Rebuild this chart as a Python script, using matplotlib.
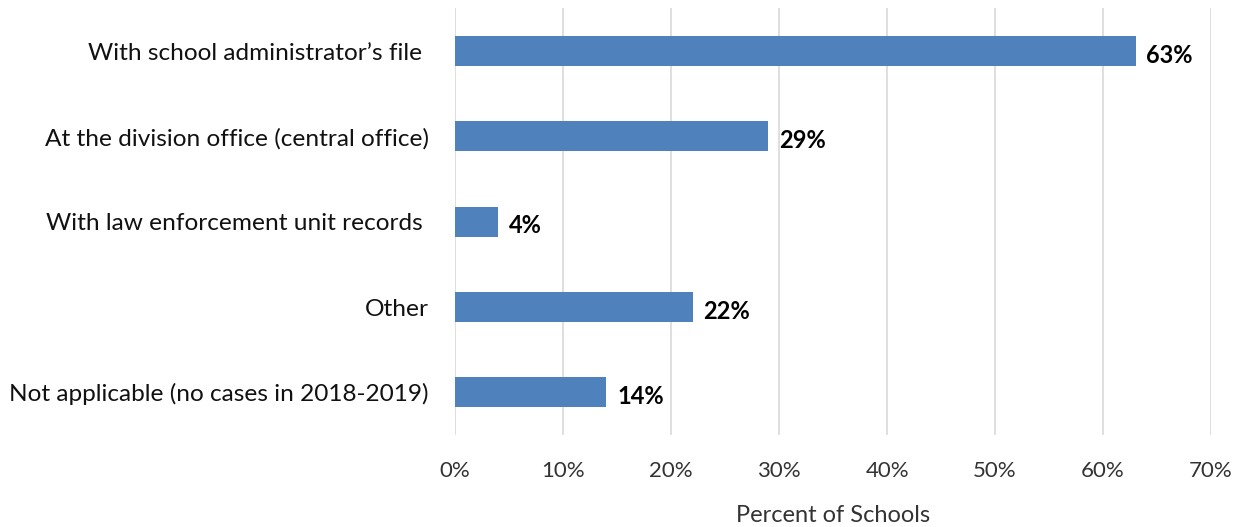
import matplotlib.pyplot as plt
from matplotlib.ticker import FuncFormatter

categories = [
    'With school administrator\u2019s file ',
    'At the division office (central office)',
    'With law enforcement unit records ',
    'Other',
    'Not applicable (no cases in 2018-2019)',
]
percents = [63, 29, 4, 22, 14]
x_ticks = [0, 10, 20, 30, 40, 50, 60, 70]

BAR_COLOR = '#4F81BD'
FONT = 'Lato'


def plot_chart():
    fig = plt.figure(figsize=(12.4, 5.27), dpi=100)
    ax = fig.add_axes([0.367, 0.1746, 0.6097, 0.8094])

    y = list(range(len(categories)))
    ax.barh(y, percents, height=0.35, color=BAR_COLOR, zorder=3)

    for yi, val in zip(y, percents):
        ax.text(val + 1.0, yi + 0.05, f'{val}%', va='center', ha='left',
                fontsize=17, fontweight='bold', fontname=FONT, color='black')

    ax.set_ylim(len(categories) - 0.5, -0.5)
    ax.set_xlim(0, 70)
    ax.set_yticks(y)
    ax.set_yticklabels(categories, fontname=FONT, fontsize=17.6, color='#111111')
    ax.set_xticks(x_ticks)
    ax.xaxis.set_major_formatter(FuncFormatter(lambda v, _: f'{int(v)}%'))
    for lbl in ax.get_xticklabels():
        lbl.set_fontname(FONT)
        lbl.set_fontsize(16)
        lbl.set_color('#333333')

    ax.tick_params(axis='both', length=0)
    ax.tick_params(axis='y', pad=19)
    ax.tick_params(axis='x', pad=19)
    ax.grid(axis='x', color='#D9D9D9', linewidth=1.2, zorder=0)
    for side in ['top', 'right', 'bottom', 'left']:
        ax.spines[side].set_visible(False)

    ax.set_xlabel('Percent of Schools', fontname=FONT, fontsize=17,
                  color='#333333', labelpad=17)

    fig.savefig('out.png', dpi=100)
    plt.close(fig)


if __name__ == '__main__':
    plot_chart()
